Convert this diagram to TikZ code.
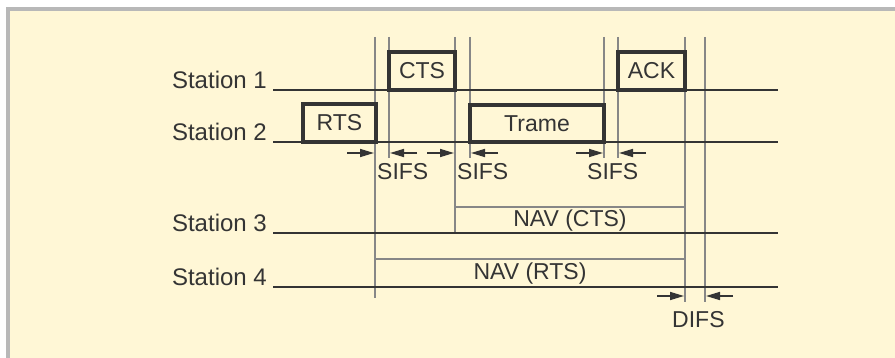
\documentclass[tikz,border=0pt]{standalone}
\usepackage{fontspec}
\setmainfont{Liberation Sans}
\usetikzlibrary{arrows.meta}
\definecolor{cream}{RGB}{255,247,214}
\definecolor{framegray}{RGB}{184,184,184}
\definecolor{ink}{RGB}{52,52,52}
\definecolor{tickgray}{RGB}{135,135,135}
\tikzset{
  lbl/.style={font=\fontsize{23}{23}\selectfont, text=ink, inner sep=0pt},
  msgbox/.style={lbl, draw=ink, line width=3.2pt},
  wire/.style={draw=ink, line width=1.9pt},
  tick/.style={draw=tickgray, line width=2.2pt},
  gap/.style={draw=ink, line width=1.6pt, -{Triangle[length=14pt,width=8pt]}}
}
\begin{document}
\begin{tikzpicture}[x=1pt,y=-1pt]
  \useasboundingbox (0,0) rectangle (895,358);
  % frame
  \fill[white] (0,0) rectangle (895,358);
  \fill[framegray] (6,7) rectangle (895,358);
  \fill[cream] (10,11) rectangle (895,358);
  % time marks
  \foreach \x/\yy in {375/298,389/158,455/233,470/158,604/158,618/158,685/302,705/302} {
    \draw[tick] (\x,37) -- (\x,\yy);
  }
  \draw[tick] (455,207) -- (685,207);
  \draw[tick] (375,259) -- (685,259);
  % stations
  \foreach \i/\y in {1/90,2/142,3/233,4/287} {
    \node[lbl, font=\fontsize{24}{24}\selectfont, anchor=base east] (st\i) at (267,\y-1) {Station \i};
    \draw[wire] (273,\y) -- (778,\y);
  }
  % frames
  \node[msgbox, minimum width=73pt, minimum height=38pt] (rts) at (339.5,123) {RTS};
  \node[msgbox, minimum width=66pt, minimum height=38pt] (cts) at (422,71) {CTS};
  \node[msgbox, minimum width=134pt, minimum height=37pt] (trame) at (537,123.5) {Trame};
  \node[msgbox, minimum width=67pt, minimum height=38pt] (ack) at (651.5,71) {ACK};
  % intervals
  \foreach \x/\d in {374/-1,390/1,454/-1,471/1,603/-1,619/1} {
    \draw[gap] (\x+\d*27,153) -- (\x,153);
  }
  \foreach \x/\d in {684/-1,706/1} {
    \draw[gap] (\x+\d*27,296) -- (\x,296);
  }
  \node[lbl, anchor=base west] (sifsA) at (377,180) {SIFS};
  \node[lbl, anchor=base west] (sifsB) at (457,180) {SIFS};
  \node[lbl, anchor=base west] (sifsC) at (587,180) {SIFS};
  \node[lbl, anchor=base west] (difs) at (672,327) {DIFS};
  \node[lbl, anchor=base] (navcts) at (570,227) {NAV (CTS)};
  \node[lbl, anchor=base] (navrts) at (530,280) {NAV (RTS)};
\end{tikzpicture}
\end{document}
